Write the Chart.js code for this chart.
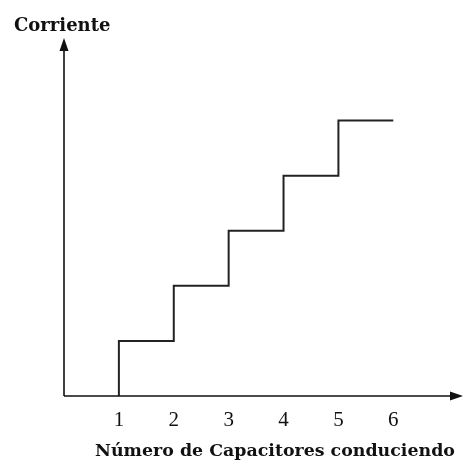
<!DOCTYPE html>
<html>
<head>
<meta charset="utf-8">
<script src="https://cdn.jsdelivr.net/npm/chart.js@4/dist/chart.umd.min.js"></script>
<style>
  html, body { margin: 0; padding: 0; background: #fff; }
  #c { display: block; }
</style>
</head>
<body>
<canvas id="c" width="467" height="463"></canvas>
<script>
// Staircase: current rises one level each time another capacitor starts conducting
const capacitors = [1, 1, 2, 3, 4, 5, 6];
const current    = [0, 1, 2, 3, 4, 5, 5];
const tickLabels = ['1', '2', '3', '4', '5', '6'];
const yTitle = 'Corriente';
const xTitle = 'Número de Capacitores conduciendo';

const points = capacitors.map((x, i) => ({ x: x, y: current[i] }));

// Axes with arrowheads plus the two hand-placed captions
const axesPlugin = {
  id: 'arrowAxes',
  afterDraw(chart) {
    const ctx = chart.ctx;
    const xs = chart.scales.x, ys = chart.scales.y;
    const x0 = xs.getPixelForValue(0);
    const y0 = ys.getPixelForValue(0);
    const top = chart.chartArea.top;
    const right = chart.chartArea.right;
    ctx.save();
    ctx.strokeStyle = '#111';
    ctx.fillStyle = '#111';
    ctx.lineWidth = 1.6;
    ctx.beginPath();
    ctx.moveTo(x0, y0);
    ctx.lineTo(x0, top + 8);
    ctx.moveTo(x0, y0);
    ctx.lineTo(right - 8, y0);
    ctx.stroke();
    // vertical arrowhead
    ctx.beginPath();
    ctx.moveTo(x0, top);
    ctx.lineTo(x0 - 4.5, top + 13);
    ctx.lineTo(x0 + 4.5, top + 13);
    ctx.closePath();
    ctx.fill();
    // horizontal arrowhead
    ctx.beginPath();
    ctx.moveTo(right, y0);
    ctx.lineTo(right - 13, y0 - 4.5);
    ctx.lineTo(right - 13, y0 + 4.5);
    ctx.closePath();
    ctx.fill();

    ctx.textBaseline = 'alphabetic';
    ctx.font = 'bold 18px "DejaVu Serif"';
    ctx.textAlign = 'left';
    ctx.fillText(yTitle, 14, 31);
    ctx.font = 'bold 17.4px "DejaVu Serif"';
    ctx.textAlign = 'center';
    ctx.fillText(xTitle, 275, 456);
    ctx.restore();
  }
};

new Chart(document.getElementById('c'), {
  type: 'line',
  data: {
    datasets: [{
      data: points,
      stepped: 'before',
      borderColor: '#222',
      borderWidth: 2,
      pointRadius: 0,
      fill: false
    }]
  },
  options: {
    responsive: false,
    animation: false,
    events: [],
    layout: { padding: { left: 64, right: 4, top: 38, bottom: 0 } },
    plugins: { legend: { display: false }, tooltip: { enabled: false }, title: { display: false } },
    scales: {
      x: {
        type: 'linear',
        min: 0,
        max: 7.27,
        afterFit: s => { s.height = 67; },
        afterBuildTicks: s => { s.ticks = tickLabels.map(t => ({ value: Number(t) })); },
        grid: { display: false, drawTicks: false },
        border: { display: false },
        ticks: {
          padding: 12,
          color: '#111',
          font: { family: '"Liberation Serif"', size: 21 },
          maxRotation: 0,
          callback: v => tickLabels[v - 1]
        }
      },
      y: {
        type: 'linear',
        min: 0,
        max: 6.5,
        display: false
      }
    }
  },
  plugins: [axesPlugin]
});
</script>
</body>
</html>
